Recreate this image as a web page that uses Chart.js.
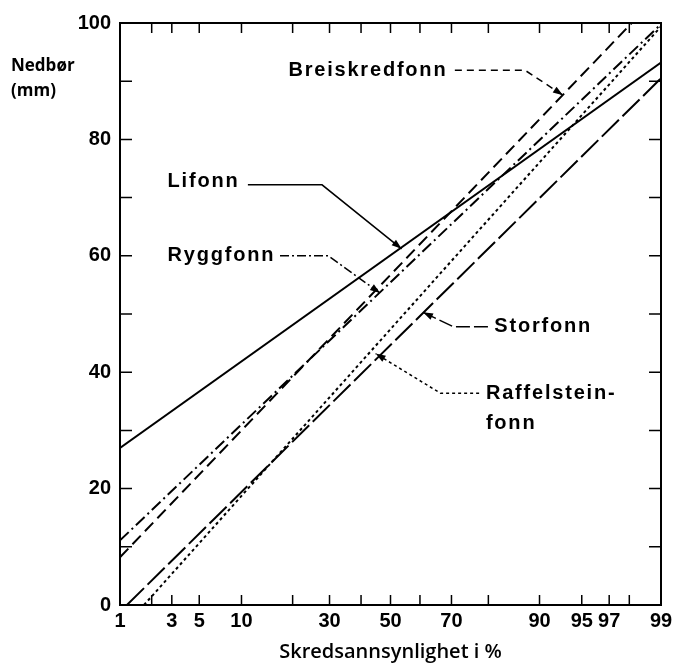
<!DOCTYPE html>
<html>
<head>
<meta charset="utf-8">
<script src="https://cdn.jsdelivr.net/npm/chart.js@4.4.1/dist/chart.umd.min.js"></script>
<style>
  html, body { margin: 0; padding: 0; background: #fff; }
  #wrap { width: 677px; height: 668px; }
</style>
</head>
<body>
<div id="wrap"><canvas id="chart" width="677" height="668"></canvas></div>
<script>
// probability axis (percent) and precipitation axis (mm)
const pctTicks = [1, 2, 3, 5, 10, 20, 30, 40, 50, 60, 70, 80, 90, 95, 97, 98, 99];
const pctLabels = [1, 3, 5, 10, 30, 50, 70, 90, 95, 97, 99];
const mmTicks = [0, 20, 40, 60, 80, 100];
const mmMinor = [0, 10, 20, 30, 40, 50, 60, 70, 80, 90, 100];

// straight lines on probability paper, read at their ends
const lifonnPct = [1, 99];
const lifonnMm = [27, 93.2];
const breiskredPct = [1, 98.1];
const breiskredMm = [8.2, 100];
const ryggPct = [1, 99];
const ryggMm = [11.1, 99.8];
const storPct = [1.17, 99];
const storMm = [0, 90.5];
const raffelPct = [1.7, 99];
const raffelMm = [0, 99.4];

// inverse normal cdf (Acklam) -> normal probability scale
function probit(p) {
  const a = [-39.69683028665376, 220.9460984245205, -275.9285104469687, 138.3577518672690, -30.66479806614716, 2.506628277459239];
  const b = [-54.47609879822406, 161.5858368580409, -155.6989798598866, 66.80131188771972, -13.28068155288572];
  const c = [-0.007784894002430293, -0.3223964580411365, -2.400758277161838, -2.549732539343734, 4.374664141464968, 2.938163982698783];
  const d = [0.007784695709041462, 0.3224671290700398, 2.445134137142996, 3.754408661907416];
  const pl = 0.02425;
  let q, r;
  if (p < pl) {
    q = Math.sqrt(-2 * Math.log(p));
    return (((((c[0]*q+c[1])*q+c[2])*q+c[3])*q+c[4])*q+c[5]) / ((((d[0]*q+d[1])*q+d[2])*q+d[3])*q+1);
  }
  if (p > 1 - pl) {
    q = Math.sqrt(-2 * Math.log(1 - p));
    return -(((((c[0]*q+c[1])*q+c[2])*q+c[3])*q+c[4])*q+c[5]) / ((((d[0]*q+d[1])*q+d[2])*q+d[3])*q+1);
  }
  q = p - 0.5; r = q * q;
  return (((((a[0]*r+a[1])*r+a[2])*r+a[3])*r+a[4])*r+a[5])*q / (((((b[0]*r+b[1])*r+b[2])*r+b[3])*r+b[4])*r+1);
}
const zOf = pct => probit(pct / 100);
const toPoints = (pcts, mms) => pcts.map((p, i) => ({ x: zOf(p), y: mms[i] }));

// label texts with their leader lines (percent, mm)
const notes = [
  { text: ['Breiskredfonn'], at: [19, 91.9], dash: [7, 5], path: [[71, 91.9], [87.6, 91.9], [93.1, 87.6]] },
  { text: ['Lifonn'], at: [2.76, 72.7], dash: [], path: [[11, 72.2], [27.8, 72.2], [53.8, 61.2]] },
  { text: ['Ryggfonn'], at: [2.76, 60.0], dash: [9, 3, 2, 3], path: [[17.1, 60], [29.6, 60], [46.4, 53.6]] },
  { text: ['Storfonn'], at: [81.4, 47.9], dash: [14, 4], path: [[79.9, 47.8], [70.6, 47.8], [61, 50.3]] },
  { text: ['Raffelstein-', 'fonn'], at: [79.4, 36.4], dash: [3, 3], path: [[77.7, 36.4], [66.6, 36.4], [44.9, 43.2]] }
];

const labelFont = 'bold 20px "Liberation Sans", Arial, sans-serif';
const tickFont = { family: '"Liberation Sans", Arial, sans-serif', weight: 'bold', size: 20 };

const paperPlugin = {
  id: 'paper',
  afterDatasetsDraw(chart) {
    const { ctx, scales: { x, y } } = chart;
    ctx.save();
    ctx.fillStyle = '#000';
    ctx.strokeStyle = '#000';
    ctx.font = labelFont;
    ctx.letterSpacing = '1.8px';
    ctx.textBaseline = 'middle';
    ctx.textAlign = 'left';
    notes.forEach(n => {
      const tx = x.getPixelForValue(zOf(n.at[0]));
      const ty = y.getPixelForValue(n.at[1]);
      n.text.forEach((t, i) => ctx.fillText(t, tx, ty + i * 30));
      const pts = n.path.map(p => [x.getPixelForValue(zOf(p[0])), y.getPixelForValue(p[1])]);
      ctx.lineWidth = 1.5;
      ctx.setLineDash(n.dash);
      ctx.beginPath();
      pts.forEach((p, i) => i ? ctx.lineTo(p[0], p[1]) : ctx.moveTo(p[0], p[1]));
      ctx.stroke();
      ctx.setLineDash([]);
      // arrow head at the last point
      const [x1, y1] = pts[pts.length - 2];
      const [x2, y2] = pts[pts.length - 1];
      const ang = Math.atan2(y2 - y1, x2 - x1);
      ctx.beginPath();
      ctx.moveTo(x2, y2);
      ctx.lineTo(x2 - 10 * Math.cos(ang) + 3.5 * Math.sin(ang), y2 - 10 * Math.sin(ang) - 3.5 * Math.cos(ang));
      ctx.lineTo(x2 - 10 * Math.cos(ang) - 3.5 * Math.sin(ang), y2 - 10 * Math.sin(ang) + 3.5 * Math.cos(ang));
      ctx.closePath();
      ctx.fill();
    });
    ctx.restore();
  },
  afterDraw(chart) {
    const { ctx, chartArea: a, scales: { x, y } } = chart;
    ctx.save();
    ctx.strokeStyle = '#000';
    ctx.lineWidth = 2;
    ctx.strokeRect(a.left, a.top, a.right - a.left, a.bottom - a.top);
    ctx.lineWidth = 1.5;
    ctx.beginPath();
    pctTicks.forEach(p => {
      const px = x.getPixelForValue(zOf(p));
      ctx.moveTo(px, a.bottom); ctx.lineTo(px, a.bottom - 10);
      ctx.moveTo(px, a.top); ctx.lineTo(px, a.top + 10);
    });
    mmMinor.forEach(v => {
      const py = y.getPixelForValue(v);
      ctx.moveTo(a.left, py); ctx.lineTo(a.left + 12, py);
      ctx.moveTo(a.right, py); ctx.lineTo(a.right - 12, py);
    });
    ctx.stroke();
    // y title at top left
    ctx.fillStyle = '#000';
    ctx.font = 'bold 17px "Open Sans", sans-serif';
    ctx.textBaseline = 'middle';
    ctx.textAlign = 'left';
    ctx.fillText('Nedbør', 11, a.top + 43);
    ctx.fillText('(mm)', 11, a.top + 68);
    ctx.restore();
  }
};

const lineStyle = dash => ({
  borderColor: '#000', borderWidth: 2, borderDash: dash,
  pointRadius: 0, fill: false, tension: 0
});

new Chart(document.getElementById('chart'), {
  type: 'line',
  data: {
    datasets: [
      { label: 'Lifonn', data: toPoints(lifonnPct, lifonnMm), ...lineStyle([]) },
      { label: 'Breiskredfonn', data: toPoints(breiskredPct, breiskredMm), ...lineStyle([12, 6]) },
      { label: 'Ryggfonn', data: toPoints(ryggPct, ryggMm), ...lineStyle([12, 4, 2, 4]) },
      { label: 'Storfonn', data: toPoints(storPct, storMm), ...lineStyle([24, 5]) },
      { label: 'Raffelsteinfonn', data: toPoints(raffelPct, raffelMm), ...lineStyle([3, 3]) }
    ]
  },
  options: {
    responsive: false,
    animation: false,
    layout: { padding: { top: 23, right: 16, left: 0, bottom: 0 } },
    plugins: { legend: { display: false }, tooltip: { enabled: false } },
    scales: {
      x: {
        type: 'linear',
        min: zOf(1),
        max: zOf(99),
        grid: { display: false, drawTicks: false },
        border: { display: false },
        afterBuildTicks: s => { s.ticks = pctLabels.map(p => ({ value: zOf(p) })); },
        afterFit: s => { s.height = 63; },
        ticks: {
          autoSkip: false, maxRotation: 0, padding: 4, color: '#000',
          font: tickFont,
          callback: (v, i) => String(pctLabels[i])
        },
        title: {
          display: true, text: 'Skredsannsynlighet i %', color: '#000',
          font: { family: '"Open Sans", sans-serif', weight: '600', size: 20 },
          padding: { top: 0, bottom: 4 }
        }
      },
      y: {
        min: 0,
        max: 100,
        grid: { display: false, drawTicks: false },
        border: { display: false },
        afterBuildTicks: s => { s.ticks = mmTicks.map(v => ({ value: v })); },
        afterFit: s => { s.width = 120; },
        ticks: {
          padding: 9, color: '#000',
          font: tickFont
        }
      }
    }
  },
  plugins: [paperPlugin]
});
</script>
</body>
</html>
